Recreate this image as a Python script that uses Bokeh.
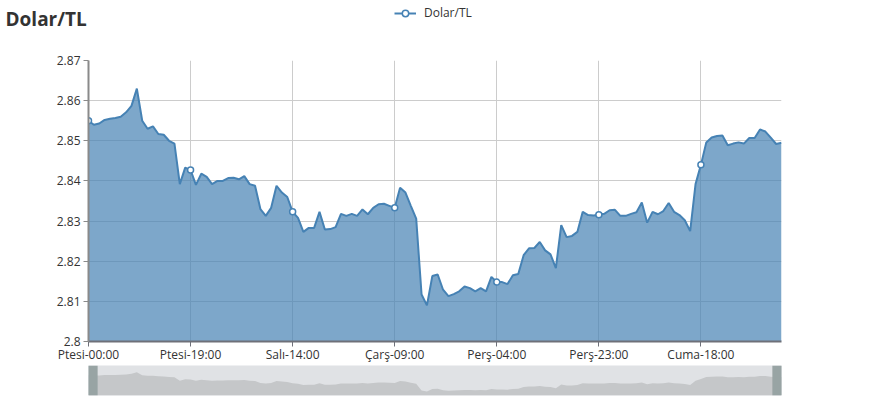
from bokeh.plotting import figure
from bokeh.layouts import column
from bokeh.models import (Range1d, FixedTicker, NumeralTickFormatter, Label, Legend, LegendItem)
from bokeh.embed import file_html
from bokeh.resources import INLINE

# ---- data ----
series_name = "Dolar/TL"
day_names = ["Ptesi", "Salı", "Çarş", "Perş", "Cuma", "Ctesi"]
values = [
    2.8550, 2.8540, 2.8543, 2.8552, 2.8555, 2.8557, 2.8560, 2.8571, 2.8587, 2.8630,
    2.8550, 2.8530, 2.8536, 2.8517, 2.8515, 2.8500, 2.8493, 2.8392, 2.8433, 2.8427,
    2.8390, 2.8418, 2.8410, 2.8392, 2.8400, 2.8400, 2.8407, 2.8408, 2.8404, 2.8412,
    2.8392, 2.8388, 2.8330, 2.8313, 2.8333, 2.8388, 2.8371, 2.8360, 2.8323, 2.8308,
    2.8273, 2.8283, 2.8283, 2.8323, 2.8279, 2.8280, 2.8285, 2.8318, 2.8313, 2.8318,
    2.8313, 2.8329, 2.8317, 2.8333, 2.8342, 2.8343, 2.8338, 2.8333, 2.8383, 2.8371,
    2.8338, 2.8306, 2.8117, 2.8090, 2.8163, 2.8167, 2.8129, 2.8113, 2.8118, 2.8125,
    2.8137, 2.8133, 2.8125, 2.8133, 2.8125, 2.8161, 2.8148, 2.8148, 2.8143, 2.8165,
    2.8168, 2.8215, 2.8232, 2.8233, 2.8248, 2.8227, 2.8217, 2.8183, 2.8290, 2.8260,
    2.8263, 2.8273, 2.8323, 2.8315, 2.8314, 2.8316, 2.8318, 2.8327, 2.8328, 2.8313,
    2.8313, 2.8318, 2.8322, 2.8346, 2.8296, 2.8323, 2.8317, 2.8325, 2.8345, 2.8323,
    2.8315, 2.8302, 2.8275, 2.8392, 2.8440, 2.8496, 2.8508, 2.8512, 2.8513, 2.8489,
    2.8493, 2.8496, 2.8493, 2.8507, 2.8507, 2.8528, 2.8523, 2.8508, 2.8492, 2.8495,
]
categories = [f"{day_names[h // 24]}-{h % 24:02d}:00" for h in range(len(values))]
label_interval = 19
y_ticks = [2.80, 2.81, 2.82, 2.83, 2.84, 2.85, 2.86, 2.87]
y_min, y_max = 2.80, 2.87

idx = list(range(len(values)))
tick_idx = idx[::label_interval]
tick_labels = {i: categories[i] for i in tick_idx}
mark_vals = [values[i] for i in tick_idx]

FONT = "Open Sans"
LINE = "#4682b4"
TXT = "#333333"

# ---- header: title + legend ----
hdr = figure(width=869, height=50, output_backend="svg", toolbar_location=None,
             x_range=Range1d(0, 1), y_range=Range1d(0, 1),
             x_axis_type=None, y_axis_type=None,
             min_border_left=0, min_border_right=0, min_border_top=0, min_border_bottom=0)
hdr.frame_align = False
hdr.outline_line_color = None
hdr.grid.visible = False
# legend proxies (outside the visible range, only used for the legend icon)
dummy_ln = hdr.line(x=[5, 6], y=[5, 5], line_color=LINE, line_width=2)
dummy_mk = hdr.scatter(x=[5], y=[5], size=10, fill_color="white", line_color=LINE, line_width=1.5)

title = Label(x=5, y=45, x_units="screen", y_units="screen", text=series_name,
              text_font=FONT, text_font_size="19px", text_font_style="bold",
              text_color=TXT, text_baseline="top", text_align="left")
hdr.add_layout(title)

legend = Legend(items=[LegendItem(label=series_name, renderers=[dummy_ln, dummy_mk])],
                location=(394, 29), orientation="horizontal",
                padding=0, margin=0, spacing=0, border_line_color=None,
                background_fill_alpha=0, glyph_width=22, glyph_height=16,
                label_standoff=8, label_text_font=FONT, label_text_font_size="12px",
                label_text_color=TXT)
hdr.add_layout(legend, "center")

# ---- main chart ----
p = figure(width=869, height=315, output_backend="svg", toolbar_location=None,
           x_range=Range1d(0, len(values) - 1), y_range=Range1d(y_min, y_max),
           min_border_left=88, min_border_right=88, min_border_top=10, min_border_bottom=20)
p.outline_line_color = None

p.varea(x=idx, y1=[y_min] * len(values), y2=values, fill_color=LINE, fill_alpha=0.7)
p.line(idx, values, line_color=LINE, line_width=2)
p.scatter(tick_idx, mark_vals, size=6, fill_color="white", line_color=LINE, line_width=1.5)

p.xaxis.ticker = FixedTicker(ticks=tick_idx)
p.xaxis.major_label_overrides = tick_labels
p.xaxis.axis_line_color = "#6e7079"
p.xaxis.axis_line_width = 2
p.xaxis.major_tick_line_color = "#6e7079"
p.xaxis.major_tick_in = 0
p.xaxis.major_tick_out = 5
p.xaxis.minor_tick_line_color = None
p.xaxis.major_label_standoff = -1

p.yaxis.ticker = FixedTicker(ticks=y_ticks)
p.yaxis.formatter = NumeralTickFormatter(format="0.[00]")
p.yaxis.axis_line_color = "#8a8a8a"
p.yaxis.axis_line_width = 2
p.yaxis.major_tick_line_color = "#8a8a8a"
p.yaxis.major_tick_in = 0
p.yaxis.major_tick_out = 5
p.yaxis.minor_tick_line_color = None
p.yaxis.major_label_standoff = 3

for ax in (p.xaxis, p.yaxis):
    ax.major_label_text_font = FONT
    ax.major_label_text_font_size = "12px"
    ax.major_label_text_color = TXT

p.xgrid.ticker = FixedTicker(ticks=tick_idx)
p.ygrid.ticker = FixedTicker(ticks=y_ticks)
p.grid.grid_line_color = "#cccccc"
p.grid.grid_line_width = 1

# ---- data zoom slider ----
s_lo, s_hi = 2.798, 2.882
p2 = figure(width=869, height=34, output_backend="svg", toolbar_location=None,
            x_range=Range1d(0, len(values) - 1), y_range=Range1d(s_lo, s_hi),
            x_axis_type=None, y_axis_type=None,
            min_border_left=88, min_border_right=88, min_border_top=0, min_border_bottom=4)
p2.outline_line_color = None
p2.grid.visible = False
p2.background_fill_color = "#e0e2e5"
p2.varea(x=idx, y1=[s_lo] * len(values), y2=values, fill_color="#c5c7c9")
p2.quad(left=[-0.2], right=[1.7], bottom=[s_lo], top=[s_hi], fill_color="#98a4a4", line_color=None)
p2.quad(left=[len(values) - 2.7], right=[len(values) - 1 + 0.3], bottom=[s_lo], top=[s_hi],
        fill_color="#98a4a4", line_color=None)

layout = column(hdr, p, p2, spacing=0)
open("out.html", "w").write(file_html(layout, INLINE))
